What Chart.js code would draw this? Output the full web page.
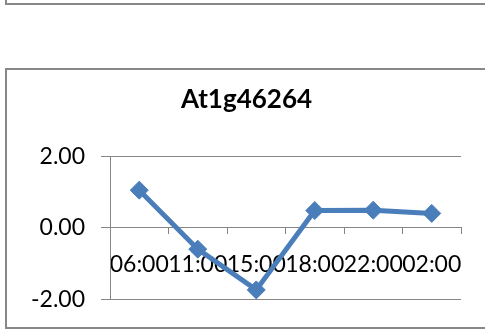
<!DOCTYPE html>
<html>
<head>
<meta charset="utf-8">
<script src="https://cdn.jsdelivr.net/npm/chart.js@4/dist/chart.umd.min.js"></script>
<style>
  html, body { margin: 0; padding: 0; background: #fff; }
  #wrap { position: relative; width: 485px; height: 329px; }
</style>
</head>
<body>
<div id="wrap"><canvas id="c" width="485" height="329"></canvas></div>
<script>
// Sampling times and expression values for the gene
const timeLabels = ['06:00', '11:00', '15:00', '18:00', '22:00', '02:00'];
const expression = [1.05, -0.60, -1.74, 0.48, 0.49, 0.40];
const yTicks = [-2, 0, 2];
const chartTitle = 'At1g46264';

const GRID = '#868686';
const BLUE = '#4A7EBB';
const FONT = 'Lato, "Open Sans", sans-serif';

// Grey frames around the chart panels
const framePlugin = {
  id: 'frames',
  beforeDraw(chart) {
    const ctx = chart.ctx;
    ctx.save();
    ctx.fillStyle = '#fff';
    ctx.fillRect(0, 0, chart.width, chart.height);
    ctx.fillStyle = '#888888';
    // bottom edge of the panel above
    ctx.fillRect(5, 0, 2, 5);
    ctx.fillRect(5, 3, chart.width - 5, 2);
    // this panel
    ctx.fillRect(5, 68, chart.width - 5, 2);
    ctx.fillRect(5, 68, 2, 261);
    ctx.fillRect(5, 327, chart.width - 5, 2);
    ctx.restore();
  }
};

new Chart(document.getElementById('c'), {
  type: 'line',
  data: {
    labels: timeLabels,
    datasets: [{
      data: expression,
      borderColor: BLUE,
      backgroundColor: BLUE,
      borderWidth: 5,
      tension: 0,
      pointStyle: 'rectRot',
      pointRadius: 9,
      pointBorderWidth: 1,
      pointBackgroundColor: BLUE,
      pointBorderColor: BLUE
    }]
  },
  options: {
    responsive: false,
    animation: false,
    events: [],
    layout: { padding: { left: 32, right: 24, top: 0, bottom: 28 } },
    plugins: {
      legend: { display: false },
      tooltip: { enabled: false },
      title: {
        display: true,
        text: chartTitle,
        color: '#000',
        font: { family: FONT, size: 26, weight: 'bold', lineHeight: 1.2 },
        padding: { top: 84, bottom: 41 }
      }
    },
    scales: {
      x: {
        type: 'category',
        position: { y: 0 },
        offset: true,
        afterFit(scale) { scale.height = 0; },
        grid: {
          display: true,
          offset: true,
          drawOnChartArea: false,
          drawTicks: true,
          tickLength: 6,
          color: GRID,
          lineWidth: 1
        },
        border: { display: true, color: GRID, width: 1 },
        ticks: {
          color: '#000',
          padding: 17,
          maxRotation: 0,
          autoSkip: false,
          font: { family: FONT, size: 23 }
        }
      },
      y: {
        min: -2,
        max: 2,
        afterFit(scale) { scale.width = 78; },
        afterBuildTicks(scale) { scale.ticks = yTicks.map(v => ({ value: v })); },
        grid: {
          color: GRID,
          lineWidth: 1,
          tickLength: 9,
          drawTicks: true
        },
        border: { display: true, color: GRID, width: 1 },
        ticks: {
          color: '#000',
          padding: 16,
          font: { family: FONT, size: 23 },
          callback: v => Number(v).toFixed(2)
        }
      }
    }
  },
  plugins: [framePlugin]
});
</script>
</body>
</html>
